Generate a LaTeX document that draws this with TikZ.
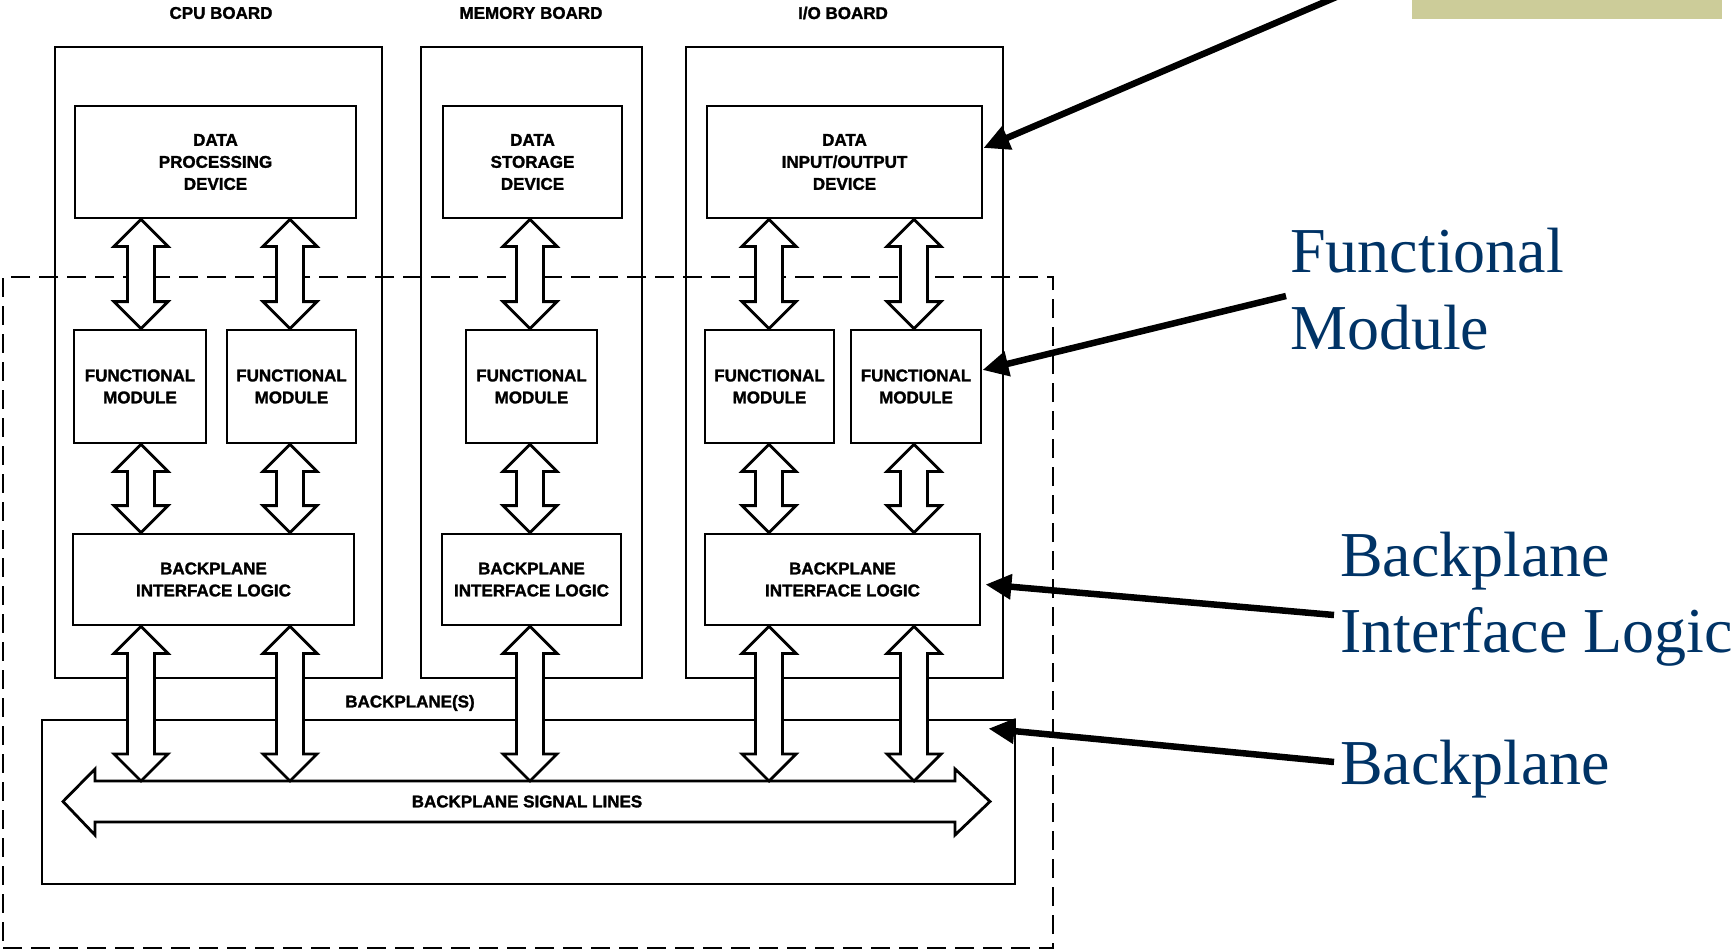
\documentclass[tikz,border=0pt]{standalone}
\usepackage{fontspec}
\setmainfont{Liberation Serif}
\setsansfont{Liberation Sans}
\newfontfamily\heavysans{Liberation Sans Bold}[FakeBold=1.6]
\usetikzlibrary{calc,arrows.meta}
\definecolor{labelblue}{RGB}{0,51,102}
\definecolor{bartan}{RGB}{204,204,153}
\tikzset{
  board/.style={draw, line width=2.8pt, inner sep=0pt},
  unit/.style={draw, line width=2.8pt, fill=white, inner sep=0pt, align=center,
    font=\heavysans\fontsize{17}{22}\selectfont},
  caption/.style={inner sep=0pt, font=\heavysans\fontsize{17}{22}\selectfont},
  note/.style={inner sep=0pt, anchor=base west, text=labelblue,
    font=\rmfamily\fontsize{64}{77}\selectfont},
  pointer/.style={line width=6.5pt, -{Triangle[length=26pt,width=24pt]}},
  % hollow two-headed block arrow running downwards from start to target
  blockarrow/.style={draw=black, line width=2.8pt, fill=white, line join=miter,
    to path={let \p1=(\tikztostart), \p2=(\tikztotarget) in
      (\x1,\y1) -- (\x1+27pt,\y1-27pt) -- (\x1+13.5pt,\y1-27pt)
      -- (\x1+13.5pt,\y2+27pt) -- (\x1+27pt,\y2+27pt) -- (\x2,\y2)
      -- (\x1-27pt,\y2+27pt) -- (\x1-13.5pt,\y2+27pt)
      -- (\x1-13.5pt,\y1-27pt) -- (\x1-27pt,\y1-27pt) -- cycle}}
}
\begin{document}
\begin{tikzpicture}[x=1pt,y=-1pt]
\useasboundingbox (0,0) rectangle (1736,952);
\clip (0,0) rectangle (1736,952);

% backplane grouping (dashed)
\node[draw, line width=2.8pt, dash pattern=on 19pt off 9pt, minimum width=1050pt,
      minimum height=671pt, inner sep=0pt] (group) at (528,612.5) {};

% boards
\node[board, minimum width=327pt, minimum height=631pt] (cpu) at (218.5,362.5) {};
\node[board, minimum width=221pt, minimum height=631pt] (mem) at (531.5,362.5) {};
\node[board, minimum width=317pt, minimum height=631pt] (io)  at (844.5,362.5) {};
\node[caption] (cpuT) at (221,13) {CPU BOARD};
\node[caption] (memT) at (531,13) {MEMORY BOARD};
\node[caption] (ioT)  at (843,13) {I/O BOARD};

% backplane
\node[board, minimum width=973pt, minimum height=164pt] (bp) at (528.5,802) {};
\node[caption] (bpT) at (410,703) {BACKPLANE(S)};

% devices
\node[unit, minimum width=281pt, minimum height=112pt] (dpd) at (215.5,162) {DATA\\PROCESSING\\DEVICE};
\node[unit, minimum width=179pt, minimum height=112pt] (dsd) at (532.5,162) {DATA\\STORAGE\\DEVICE};
\node[unit, minimum width=275pt, minimum height=112pt] (dio) at (844.5,162) {DATA\\INPUT/OUTPUT\\DEVICE};

% functional modules
\node[unit, minimum width=132pt, minimum height=113pt] (fm1) at (140,386.5)   {FUNCTIONAL\\MODULE};
\node[unit, minimum width=129pt, minimum height=113pt] (fm2) at (291.5,386.5) {FUNCTIONAL\\MODULE};
\node[unit, minimum width=131pt, minimum height=113pt] (fm3) at (531.5,386.5) {FUNCTIONAL\\MODULE};
\node[unit, minimum width=129pt, minimum height=113pt] (fm4) at (769.5,386.5) {FUNCTIONAL\\MODULE};
\node[unit, minimum width=130pt, minimum height=113pt] (fm5) at (916,386.5)   {FUNCTIONAL\\MODULE};

% backplane interface logic
\node[unit, minimum width=281pt, minimum height=91pt] (bil1) at (213.5,579.5) {BACKPLANE\\INTERFACE LOGIC};
\node[unit, minimum width=179pt, minimum height=91pt] (bil2) at (531.5,579.5) {BACKPLANE\\INTERFACE LOGIC};
\node[unit, minimum width=275pt, minimum height=91pt] (bil3) at (842.5,579.5) {BACKPLANE\\INTERFACE LOGIC};

% signal lines
\draw[line width=2.8pt, fill=white, line join=miter]
  (63,801.5) -- (95,769) -- (95,781) -- (955,781) -- (955,769) -- (990,801.5)
  -- (955,835) -- (955,822) -- (95,822) -- (95,835) -- cycle;
\node[caption] (sig) at (527,801.5) {BACKPLANE SIGNAL LINES};
\coordinate (bus) at (0,781);

% arrow columns
\coordinate (c1) at (141,0);
\coordinate (c2) at (290,0);
\coordinate (c3) at (530,0);
\coordinate (c4) at (769,0);
\coordinate (c5) at (914,0);

\draw[blockarrow] (dpd.south -| c1) to (fm1.north -| c1);
\draw[blockarrow] (dpd.south -| c2) to (fm2.north -| c2);
\draw[blockarrow] (dsd.south -| c3) to (fm3.north -| c3);
\draw[blockarrow] (dio.south -| c4) to (fm4.north -| c4);
\draw[blockarrow] (dio.south -| c5) to (fm5.north -| c5);

\draw[blockarrow] (fm1.south -| c1) to (bil1.north -| c1);
\draw[blockarrow] (fm2.south -| c2) to (bil1.north -| c2);
\draw[blockarrow] (fm3.south -| c3) to (bil2.north -| c3);
\draw[blockarrow] (fm4.south -| c4) to (bil3.north -| c4);
\draw[blockarrow] (fm5.south -| c5) to (bil3.north -| c5);

\draw[blockarrow] (bil1.south -| c1) to (bus -| c1);
\draw[blockarrow] (bil1.south -| c2) to (bus -| c2);
\draw[blockarrow] (bil2.south -| c3) to (bus -| c3);
\draw[blockarrow] (bil3.south -| c4) to (bus -| c4);
\draw[blockarrow] (bil3.south -| c5) to (bus -| c5);

% callouts
\fill[bartan] (1412,0) rectangle (1722,19);
\node[note] (fmA) at (1290,272) {Functional};
\node[note] (fmB) at (1290,349) {Module};
\node[note] (bilA) at (1340,576) {Backplane};
\node[note] (bilB) at (1340,652) {Interface Logic};
\node[note] (bpA) at (1340,784) {Backplane};

\coordinate (p1) at (1376,-20);
\coordinate (p2) at (1286,296);
\coordinate (p3) at (1334,615);
\coordinate (p4) at (1334,762);
\draw[pointer] (p1) -- ([yshift=14pt]dio.east);
\draw[pointer] (p2) -- ([yshift=16.5pt]fm5.east);
\draw[pointer] (p3) -- ([xshift=4pt,yshift=-5pt]bil3.east);
\draw[pointer] (p4) -- ([xshift=-28pt,yshift=-10pt]bp.north east);
\end{tikzpicture}
\end{document}
